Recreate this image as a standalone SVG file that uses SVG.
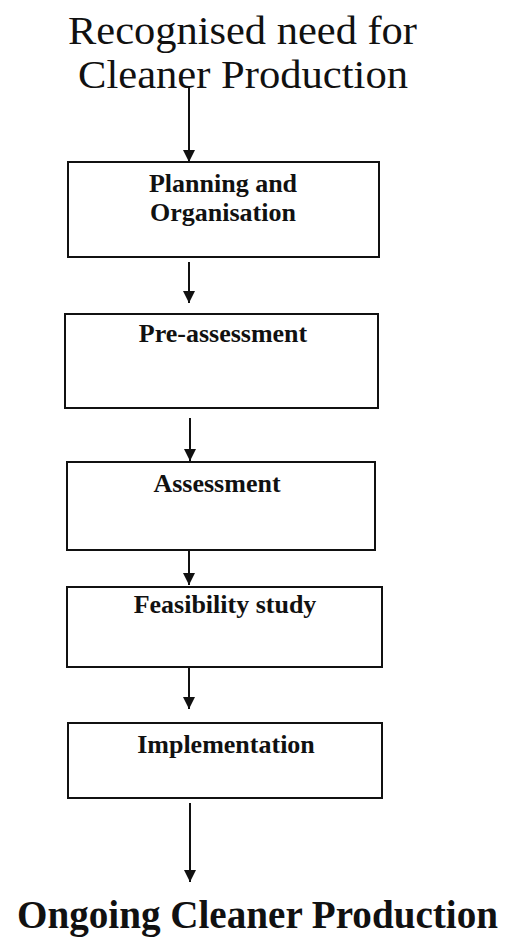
<svg xmlns="http://www.w3.org/2000/svg" width="507" height="947" viewBox="0 0 507 947">
  <style>
    .box { fill: #ffffff; stroke: #111111; stroke-width: 2; }
    .label { font-family: "Liberation Serif", "Times New Roman", serif; font-weight: bold; font-size: 26px; fill: #111111; text-anchor: middle; }
    .title { font-family: "Liberation Serif", "Times New Roman", serif; font-size: 40px; fill: #111111; }
    .end { font-family: "Liberation Serif", "Times New Roman", serif; font-weight: bold; font-size: 39px; fill: #111111; }
    .conn { stroke: #111111; stroke-width: 2; fill: none; marker-end: url(#arrow); }
  </style>
  <defs>
    <marker id="arrow" viewBox="0 0 10 10" refX="10" refY="5" markerWidth="6" markerHeight="6" markerUnits="strokeWidth" orient="auto">
      <path d="M0,0 L10,5 L0,10 Z" fill="#111111"/>
    </marker>
  </defs>
  <rect width="507" height="947" fill="#ffffff"/>

  <g id="start">
    <text class="title" x="68" y="44" textLength="349" lengthAdjust="spacingAndGlyphs">Recognised need for</text>
    <text class="title" x="78" y="88" textLength="330" lengthAdjust="spacingAndGlyphs">Cleaner Production</text>
  </g>

  <g id="planning">
    <rect class="box" x="68" y="162" width="311" height="95"/>
    <text class="label" x="223" y="192">Planning and</text>
    <text class="label" x="223" y="221">Organisation</text>
  </g>

  <g id="pre-assessment">
    <rect class="box" x="65" y="314" width="313" height="94"/>
    <text class="label" x="223" y="342">Pre-assessment</text>
  </g>

  <g id="assessment">
    <rect class="box" x="67" y="462" width="308" height="88"/>
    <text class="label" x="217" y="492">Assessment</text>
  </g>

  <g id="feasibility">
    <rect class="box" x="67" y="587" width="315" height="80"/>
    <text class="label" x="225" y="613">Feasibility study</text>
  </g>

  <g id="implementation">
    <rect class="box" x="68" y="723" width="314" height="75"/>
    <text class="label" x="226" y="753">Implementation</text>
  </g>

  <g id="ongoing">
    <text class="end" x="17" y="928" textLength="481" lengthAdjust="spacingAndGlyphs">Ongoing Cleaner Production</text>
  </g>

  <g id="connectors">
    <line class="conn" x1="189" y1="86" x2="189" y2="162"/>
    <line class="conn" x1="189" y1="262" x2="189" y2="303"/>
    <line class="conn" x1="190" y1="418" x2="190" y2="461"/>
    <line class="conn" x1="189" y1="550" x2="189" y2="585"/>
    <line class="conn" x1="189" y1="667" x2="189" y2="709"/>
    <line class="conn" x1="190" y1="803" x2="190" y2="882"/>
  </g>
</svg>
